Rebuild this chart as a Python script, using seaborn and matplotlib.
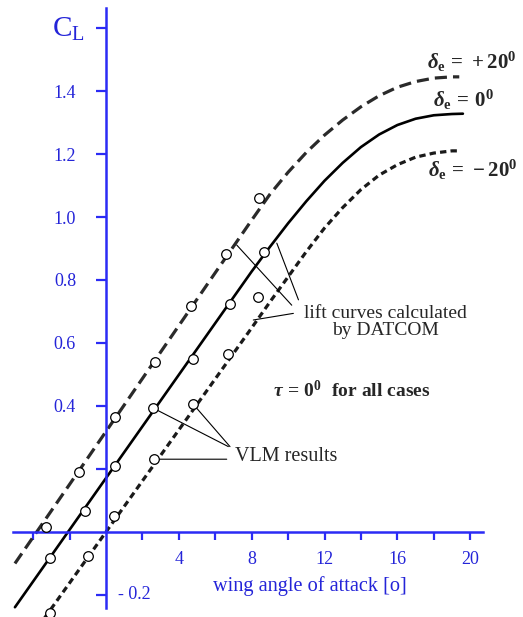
import numpy as np
import matplotlib
matplotlib.use("Agg")
import matplotlib.pyplot as plt
import seaborn as sns
import pandas as pd

# DATCOM lift curves (alpha in deg, CL)
alpha_p20 = [-5, -2, 2, 6, 8, 9, 10, 11, 12, 13, 14, 15, 16, 17, 18, 19, 19.4]
cl_p20 = [-0.10, 0.151, 0.487, 0.823, 0.99, 1.072, 1.142, 1.205, 1.26, 1.308,
          1.35, 1.385, 1.412, 1.43, 1.441, 1.445, 1.445]
alpha_0 = [-5, -2, 2, 6, 8, 9, 10, 11, 12, 13, 14, 15, 16, 17, 18, 19, 19.6]
cl_0 = [-0.239, 0.007, 0.335, 0.663, 0.827, 0.905, 0.98, 1.05, 1.115, 1.172,
        1.222, 1.262, 1.292, 1.312, 1.323, 1.327, 1.328]
alpha_m20 = [-5, 0, 4, 8, 9, 10, 11, 12, 13, 14, 15, 16, 17, 18, 19, 19.3]
cl_m20 = [-0.405, 0.0, 0.324, 0.648, 0.73, 0.81, 0.89, 0.965, 1.03, 1.087,
          1.133, 1.166, 1.19, 1.203, 1.21, 1.21]

# VLM results
vlm_a_p20 = [-3.3, -1.5, 0.5, 2.7, 4.65, 6.6, 8.4]
vlm_cl_p20 = [0.015, 0.19, 0.366, 0.541, 0.717, 0.883, 1.059]
vlm_a_0 = [-3.1, -1.15, 0.5, 2.6, 4.8, 6.8, 8.7]
vlm_cl_0 = [-0.082, 0.067, 0.21, 0.393, 0.548, 0.724, 0.89]
vlm_a_m20 = [-3.1, -1.0, 0.45, 2.65, 4.8, 6.7, 8.35]
vlm_cl_m20 = [-0.258, -0.076, 0.051, 0.231, 0.405, 0.565, 0.747]

x_ticks = [-4, -2, 2, 4, 6, 8, 10, 12, 14, 16, 18, 20]
y_ticks = [-0.2, 0.2, 0.4, 0.6, 0.8, 1.0, 1.2, 1.4, 1.6]

blue = "#2b2bf5"
lblue = "#2424d8"

sns.set_style("white")
plt.rcParams["font.family"] = ["Liberation Serif", "DejaVu Serif"]
plt.rcParams["mathtext.fontset"] = "custom"
plt.rcParams["mathtext.rm"] = "Liberation Serif"
plt.rcParams["mathtext.it"] = "Liberation Serif:italic:bold"
plt.rcParams["mathtext.bf"] = "Liberation Serif:bold"

fig = plt.figure(figsize=(5.23, 6.17), dpi=100)
ax = fig.add_axes([0, 0, 1, 1])

sns.lineplot(x=alpha_p20, y=cl_p20, ax=ax, color="#2a2a2a", lw=2.3,
             linestyle=(0, (3.8, 1.9)), estimator=None)
sns.lineplot(x=alpha_0, y=cl_0, ax=ax, color="black", lw=1.9, estimator=None)
sns.lineplot(x=alpha_m20, y=cl_m20, ax=ax, color="#1a1a1a", lw=2.3,
             linestyle=(0, (2.0, 1.3)), estimator=None)

for a, c in [(vlm_a_p20, vlm_cl_p20), (vlm_a_0, vlm_cl_0), (vlm_a_m20, vlm_cl_m20)]:
    sns.scatterplot(x=a, y=c, ax=ax, marker="o", s=48, color="white",
                    edgecolor="black", linewidth=0.9, zorder=5)

ax.set_xlim(-5.82, 22.9)
ax.set_ylim(-0.27, 1.689)

for s in ["top", "right"]:
    ax.spines[s].set_visible(False)
ax.spines["left"].set_position(("data", 0))
ax.spines["bottom"].set_position(("data", 0))
ax.spines["left"].set_bounds(-0.24, 1.665)
ax.spines["bottom"].set_bounds(-5.1, 20.7)
for s in ["left", "bottom"]:
    ax.spines[s].set_color(blue)
    ax.spines[s].set_linewidth(1.8)

ax.set_xticks(x_ticks)
ax.set_xticklabels([str(t) if t in (4, 8, 12, 16, 20) else "" for t in x_ticks])
ax.set_yticks(y_ticks)
ax.set_yticklabels(["", "", "0.4", "0.6", "0.8", "1.0", "1.2", "1.4", ""])
ax.tick_params(axis="x", bottom=True, direction="out", length=6, width=1.6,
               color=blue, labelcolor=lblue, labelsize=13, pad=8)
ax.tick_params(axis="y", left=True, direction="out", length=7.5, width=1.6,
               color=blue, labelcolor=lblue, labelsize=13, pad=14)
ax.text(0.66, -0.2, "- 0.2", color=lblue, fontsize=13, va="center", ha="left")

ax.text(-2.97, 1.571, r"$\mathrm{C}_{\mathrm{L}}$", color=lblue, fontsize=21,
        ha="left", va="baseline")
ax.text(11.18, -0.171, "wing angle of attack [o]", color=lblue, fontsize=14.6,
        ha="center", va="center")

ax.text(17.64, 1.493, r"$\delta_{\mathbf{e}}\mathbf{\,=\,+20^{0}}$", fontsize=15,
        ha="left", va="center")
ax.text(17.97, 1.371, r"$\delta_{\mathbf{e}}\mathbf{\,=\,0^{0}}$", fontsize=15,
        ha="left", va="center")
ax.text(17.69, 1.149, r"$\delta_{\mathbf{e}}\mathbf{\,=\,-20^{0}}$", fontsize=15,
        ha="left", va="center")
ax.text(13.47, 0.449, r"$\tau\mathbf{\,=\,0^{0}\ \ for\ all\ cases}$", fontsize=14,
        ha="center", va="center")

ax.text(15.33, 0.667, "lift curves calculated\nby DATCOM", fontsize=14,
        ha="center", va="center", linespacing=1.05)
ax.text(7.09, 0.239, "VLM results", fontsize=14.5, ha="left", va="center")

line_kw = dict(arrowstyle="-", lw=0.8, color="black", shrinkA=0, shrinkB=0)
for start, end in [((10.2, 0.72), (7.18, 0.911)),
                   ((10.57, 0.737), (9.38, 0.917)),
                   ((10.29, 0.694), (8.09, 0.673))]:
    ax.annotate("", xy=end, xytext=start, arrowprops=line_kw)
for start, end in [((6.72, 0.271), (vlm_a_0[3], vlm_cl_0[3])),
                   ((6.81, 0.271), (vlm_a_m20[4], vlm_cl_m20[4])),
                   ((6.63, 0.231), (vlm_a_m20[3], vlm_cl_m20[3]))]:
    ax.annotate("", xy=end, xytext=start, arrowprops=line_kw)

fig.savefig("out.png", dpi=100)
